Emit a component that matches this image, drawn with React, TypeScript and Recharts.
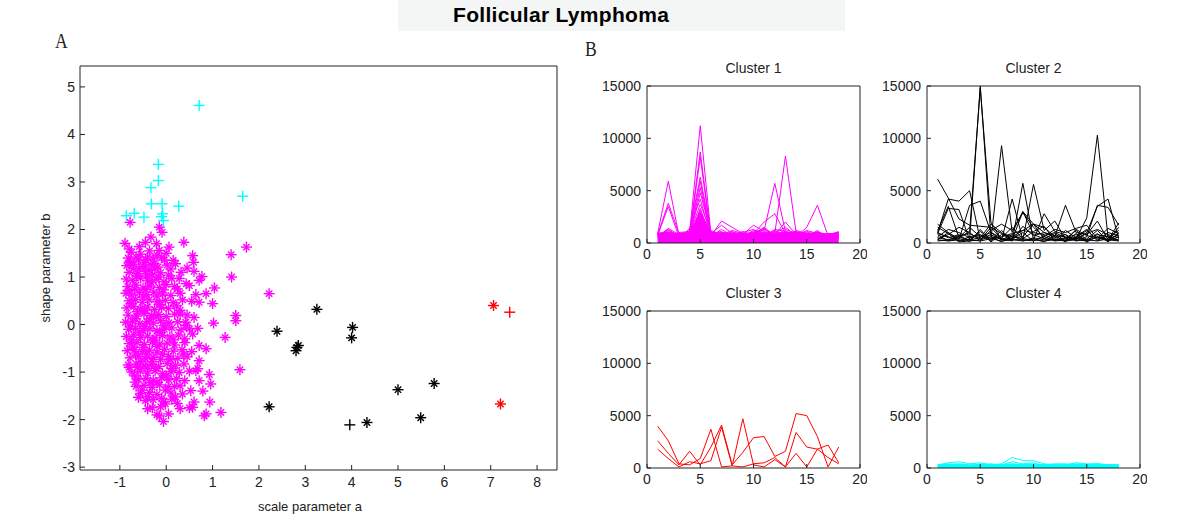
import React from 'react';
import { ScatterChart, Scatter, ComposedChart, Line, Area, XAxis, YAxis } from 'recharts';

// Panel A: shape/scale parameter estimates, one array per cluster and marker style
const magentaStars: number[][] = [
  [-0.78, 2.15], [-0.15, 2.05], [-0.09, 1.94], [-0.89, 1.71], [-0.8, 1.59], [-0.58, 1.64], [-0.45, 1.73],
  [-0.33, 1.84], [-0.21, 1.7], [-0.15, 1.56], [0.06, 1.63], [0.38, 1.73], [1.4, 1.47], [1.73, 1.63],
  [0.57, 1.45], [0.59, 1.31], [0.45, 1.19], [0.6, 1.12], [0.77, 1.01], [1.41, 1.0], [-0.04, 1.36],
  [0.1, 1.17], [0.28, 0.97], [-0.78, 1.31], [-0.65, 1.42], [-0.44, 1.35], [-0.26, 1.28], [-0.58, 1.17],
  [-0.37, 1.14], [2.22, 0.65], [1.04, 0.77], [0.86, 0.65], [1.0, 0.44], [1.5, 0.19], [1.5, 0.08],
  [1.02, 0.03], [1.27, -0.27], [1.59, -0.95], [0.93, -1.05], [0.96, -1.25], [0.79, -1.4], [0.94, -1.63],
  [1.18, -1.85], [0.82, -1.92], [0.6, -1.63], [0.5, -1.75], [0.24, -1.66], [-0.02, -1.67], [-0.06, -2.04],
  [-0.15, -1.92], [-0.4, -1.77], [-0.6, -1.53], [-0.67, -1.21], [-0.8, -0.9], [0.71, -0.76], [0.64, -0.97],
  [0.86, -0.51], [0.71, -0.44], [0.68, -0.08], [0.57, -0.2], [0.6, 0.15], [0.3, 0.22], [0.43, -0.02],
  [0.71, 0.47], [0.64, 0.63], [0.24, 0.75], [0.43, 0.86], [0.71, 0.93], [0.71, -1.18], [0.57, -1.74],
  [0.86, -1.88], [0.53, -1.39], [0.68, -0.93],
  [-0.75, 1.52], [-0.55, 1.48], [-0.36, 1.55], [-0.2, 1.46], [0.0, 1.5],
  [-0.82, 1.4], [-0.6, 1.36], [-0.4, 1.42], [-0.28, 1.38], [-0.1, 1.41], [0.15, 1.35],
  [-0.85, 1.24], [-0.7, 1.27], [-0.5, 1.22], [-0.33, 1.26], [-0.18, 1.21], [0.02, 1.25], [0.2, 1.28],
  [-0.8, 1.1], [-0.62, 1.07], [-0.45, 1.12], [-0.3, 1.05], [-0.12, 1.09], [0.05, 1.04], [0.32, 1.1],
  [-0.86, 0.96], [-0.72, 0.93], [-0.55, 0.98], [-0.4, 0.92], [-0.22, 0.95], [-0.05, 0.9], [0.12, 0.97],
  [-0.83, 0.8], [-0.65, 0.83], [-0.5, 0.77], [-0.35, 0.81], [-0.15, 0.78], [0.0, 0.84], [0.18, 0.8], [0.5, 0.82],
  [-0.87, 0.66], [-0.74, 0.62], [-0.58, 0.67], [-0.42, 0.63], [-0.27, 0.68], [-0.08, 0.64], [0.1, 0.61], [0.3, 0.66],
  [-0.8, 0.5], [-0.66, 0.53], [-0.52, 0.47], [-0.37, 0.52], [-0.2, 0.48], [-0.02, 0.51], [0.15, 0.46], [0.35, 0.52], [0.55, 0.49],
  [-0.85, 0.35], [-0.7, 0.38], [-0.55, 0.33], [-0.4, 0.37], [-0.25, 0.32], [-0.1, 0.36], [0.05, 0.34], [0.22, 0.39],
  [-0.82, 0.2], [-0.64, 0.18], [-0.48, 0.23], [-0.32, 0.19], [-0.16, 0.21], [0.0, 0.17], [0.18, 0.22], [0.45, 0.2],
  [-0.88, 0.05], [-0.73, 0.07], [-0.57, 0.02], [-0.42, 0.06], [-0.28, 0.03], [-0.12, 0.08], [0.06, 0.04], [0.25, 0.06],
  [-0.81, -0.1], [-0.66, -0.08], [-0.5, -0.12], [-0.35, -0.09], [-0.2, -0.13], [-0.04, -0.1], [0.12, -0.07], [0.32, -0.11], [0.5, -0.09],
  [-0.86, -0.25], [-0.7, -0.22], [-0.55, -0.27], [-0.4, -0.24], [-0.24, -0.28], [-0.08, -0.23], [0.08, -0.26], [0.26, -0.22],
  [-0.8, -0.4], [-0.63, -0.38], [-0.47, -0.42], [-0.3, -0.37], [-0.14, -0.41], [0.02, -0.39], [0.18, -0.43], [0.4, -0.38],
  [-0.84, -0.55], [-0.68, -0.53], [-0.52, -0.57], [-0.36, -0.54], [-0.2, -0.58], [-0.04, -0.52], [0.15, -0.56], [0.34, -0.53], [0.55, -0.57],
  [-0.78, -0.7], [-0.6, -0.68], [-0.44, -0.72], [-0.28, -0.69], [-0.12, -0.73], [0.05, -0.67], [0.25, -0.71], [0.45, -0.68],
  [-0.82, -0.85], [-0.65, -0.83], [-0.48, -0.87], [-0.32, -0.84], [-0.16, -0.88], [0.02, -0.82], [0.2, -0.86], [0.38, -0.83],
  [-0.74, -1.0], [-0.56, -0.98], [-0.4, -1.02], [-0.24, -0.97], [-0.08, -1.03], [0.1, -0.99], [0.28, -1.01], [0.5, -0.98],
  [-0.6, -1.15], [-0.44, -1.13], [-0.28, -1.17], [-0.1, -1.12], [0.06, -1.16], [0.22, -1.14], [0.4, -1.18],
  [-0.65, -1.3], [-0.48, -1.28], [-0.3, -1.32], [-0.14, -1.27], [0.04, -1.31], [0.3, -1.29],
  [-0.55, -1.45], [-0.36, -1.43], [-0.2, -1.47], [0.1, -1.44], [0.35, -1.46],
  [-0.45, -1.6], [-0.28, -1.58], [-0.05, -1.62], [0.12, -1.57],
  [-0.3, -1.75], [-0.12, -1.73], [0.3, -1.77], [-0.2, -1.9], [0.05, -1.88],
  [-0.78, 1.32], [-0.48, 1.3], [-0.25, 1.17], [-0.64, 1.02], [-0.32, 0.88], [-0.06, 0.73], [-0.8, 0.72],
  [-0.5, 0.58], [-0.14, 0.42], [-0.62, 0.27], [-0.36, 0.12], [-0.05, -0.02], [-0.77, -0.03], [-0.58, -0.17],
  [-0.28, -0.33], [0.15, -0.32], [-0.72, -0.47], [-0.42, -0.62], [-0.08, -0.62], [-0.55, -0.78], [-0.22, -0.92],
  [0.12, -0.92], [-0.68, -1.08], [-0.35, -1.22], [-0.02, -1.38], [-0.52, -1.38], [0.2, -1.52], [-0.1, -1.55],
  [0.38, -0.62], [0.42, 0.05], [0.3, 0.3], [0.4, -0.3],
  [-0.7, 1.18], [-0.42, 1.02], [-0.16, 1.0], [-0.68, 0.74], [-0.44, 0.74], [-0.2, 0.6], [-0.76, 0.44],
  [-0.46, 0.3], [-0.22, 0.16], [-0.66, 0.12], [-0.46, -0.04], [-0.14, -0.16], [-0.74, -0.32], [-0.5, -0.48],
  [-0.2, -0.46], [-0.66, -0.62], [-0.3, -0.78], [0.1, -0.74], [-0.4, -0.92], [-0.62, -0.9], [0.0, -1.08],
  [-0.2, -1.22], [0.18, -1.3], [-0.4, -1.52],
];
const cyanPlus: number[][] = [
  [0.71, 4.61], [-0.17, 3.37], [-0.17, 3.03], [-0.33, 2.88], [-0.32, 2.54], [-0.09, 2.54], [0.27, 2.49],
  [1.65, 2.7], [-0.86, 2.29], [-0.69, 2.34], [-0.48, 2.26], [-0.08, 2.33], [-0.06, 2.19], [-0.1, 2.27],
];
const blackStars: number[][] = [
  [3.25, 0.32], [2.39, -0.14], [2.82, -0.48], [2.8, -0.55], [2.85, -0.44], [4.02, -0.06], [4.0, -0.28],
  [2.22, -1.73], [5.0, -1.37], [5.78, -1.24], [5.49, -1.96], [4.33, -2.06],
];
const blackPlus: number[][] = [[3.96, -2.11]];
const redStars: number[][] = [[7.06, 0.4], [7.21, -1.67]];
const redPlus: number[][] = [[7.41, 0.26]];

const aXTicks = [-1, 0, 1, 2, 3, 4, 5, 6, 7, 8];
const aYTicks = [-3, -2, -1, 0, 1, 2, 3, 4, 5];

// Panel B: profiles across 18 positions
const positions = [1, 2, 3, 4, 5, 6, 7, 8, 9, 10, 11, 12, 13, 14, 15, 16, 17, 18];
const bXTicks = [0, 5, 10, 15, 20];
const bYTicks = [0, 5000, 10000, 15000];

const cluster1Band = [950, 1000, 900, 1000, 2900, 1000, 950, 900, 850, 950, 1000, 950, 1000, 950, 900, 1000, 850, 1000];
const cluster1: number[][] = [
  [900, 5900, 700, 800, 2900, 800, 600, 500, 700, 800, 900, 700, 600, 500, 700, 600, 500, 700],
  [800, 3800, 900, 1000, 11200, 900, 700, 800, 600, 700, 800, 900, 700, 800, 600, 500, 700, 900],
  [700, 3500, 600, 900, 8700, 700, 2100, 1500, 900, 1000, 1200, 5700, 1100, 900, 700, 800, 600, 1000],
  [600, 1400, 800, 700, 8200, 600, 900, 700, 800, 1700, 1100, 900, 8300, 1000, 900, 700, 800, 600],
  [800, 1200, 700, 1200, 6300, 900, 1700, 900, 700, 900, 2000, 2800, 900, 600, 1500, 3600, 700, 1100],
  [500, 900, 600, 1000, 5900, 700, 800, 1200, 900, 600, 900, 800, 2000, 800, 700, 1100, 600, 800],
  [700, 1100, 500, 800, 5300, 800, 1000, 600, 1000, 1300, 700, 1000, 1500, 700, 1200, 900, 500, 700],
  [400, 800, 900, 600, 4800, 1000, 600, 900, 500, 1000, 1400, 600, 700, 1000, 800, 1000, 700, 500],
  [900, 600, 400, 1400, 4200, 600, 1300, 700, 800, 500, 600, 1200, 800, 700, 1000, 600, 900, 600],
  [600, 1000, 700, 900, 3700, 1100, 700, 1100, 600, 800, 1500, 700, 1300, 900, 600, 1200, 400, 900],
  [800, 700, 800, 500, 3300, 500, 900, 800, 1100, 700, 900, 1100, 600, 1200, 900, 800, 700, 400],
  [500, 1300, 600, 700, 2900, 900, 1100, 500, 700, 1100, 800, 900, 1000, 600, 1100, 700, 800, 1000],
  [700, 500, 1000, 1100, 2500, 700, 500, 1000, 900, 900, 1300, 800, 600, 800, 500, 1000, 600, 700],
  [900, 1000, 500, 600, 2200, 1200, 800, 700, 600, 1200, 1000, 600, 900, 1100, 800, 500, 900, 800],
  [600, 800, 700, 800, 3100, 600, 1000, 900, 800, 700, 600, 1300, 1100, 700, 900, 900, 700, 600],
];
const cluster2: number[][] = [
  [6100, 4300, 2300, 1700, 1600, 1500, 900, 600, 1200, 1800, 1000, 700, 600, 400, 900, 1300, 800, 500],
  [900, 3300, 3200, 300, 15000, 600, 400, 300, 200, 500, 300, 400, 200, 300, 200, 600, 300, 200],
  [1200, 3500, 500, 1100, 14800, 2000, 300, 800, 300, 200, 600, 200, 300, 500, 300, 200, 400, 300],
  [300, 1000, 200, 600, 800, 300, 9300, 1000, 3000, 800, 400, 300, 200, 1300, 700, 500, 200, 600],
  [500, 300, 600, 300, 200, 400, 200, 300, 400, 300, 200, 300, 500, 400, 2400, 10300, 500, 1200],
  [1000, 4200, 4000, 5000, 300, 1500, 400, 200, 5700, 300, 2800, 1100, 800, 200, 600, 3600, 3400, 1700],
  [800, 200, 300, 3600, 4000, 1000, 300, 4200, 300, 5600, 1200, 2100, 400, 300, 1000, 3500, 4200, 400],
  [1800, 1000, 400, 300, 500, 1800, 1000, 300, 3000, 1800, 1500, 600, 3600, 1000, 800, 2100, 300, 1900],
  [400, 800, 1500, 1000, 200, 1200, 1800, 1200, 2900, 1500, 600, 1300, 1000, 1400, 1700, 400, 1400, 900],
  [900, 600, 200, 300, 1100, 400, 600, 900, 1200, 1000, 800, 300, 400, 1200, 300, 800, 600, 300],
  [200, 300, 700, 900, 400, 800, 300, 500, 600, 1800, 400, 900, 200, 600, 1300, 200, 1000, 700],
  [600, 1300, 1000, 500, 700, 200, 1200, 200, 1600, 700, 1000, 500, 800, 200, 400, 1200, 200, 1500],
  [1500, 900, 100, 200, 300, 600, 100, 700, 200, 400, 100, 700, 100, 900, 200, 900, 100, 1000],
  [300, 200, 500, 1500, 600, 1000, 500, 1500, 400, 1100, 1600, 200, 1200, 500, 1200, 300, 700, 200],
  [1000, 500, 800, 100, 1300, 100, 800, 400, 1000, 200, 700, 1000, 500, 800, 100, 600, 300, 800],
];
const cluster3: number[][] = [
  [4000, 2600, 400, 300, 900, 3700, 100, 200, 4700, 300, 100, 800, 100, 3400, 2000, 1800, 2200, 500],
  [2600, 1400, 300, 1600, 300, 2000, 4100, 300, 1500, 2900, 3000, 1100, 1600, 5200, 5000, 3000, 100, 2000],
  [1800, 900, 100, 600, 400, 700, 3900, 200, 100, 400, 500, 1000, 100, 1400, 100, 1800, 1000, 400],
];
const cluster4Band = [280, 300, 320, 280, 300, 300, 320, 350, 300, 320, 300, 300, 300, 320, 300, 300, 280, 280];
const cluster4: number[][] = [
  [300, 500, 600, 400, 500, 300, 400, 1000, 700, 700, 400, 300, 300, 500, 400, 400, 300, 300],
  [200, 400, 300, 200, 400, 200, 300, 600, 400, 500, 200, 300, 200, 400, 300, 300, 200, 200],
  [100, 200, 200, 100, 200, 100, 200, 300, 200, 200, 100, 200, 100, 200, 200, 100, 100, 100],
  [300, 300, 400, 300, 300, 400, 300, 400, 300, 400, 300, 400, 400, 300, 300, 400, 300, 300],
];

const INK = '#222';
const toPoints = (pts: number[][]) => pts.map(([x, y]) => ({ x, y }));

const Marker = ({ cx, cy, color, star }: { cx: number; cy: number; color: string; star: boolean }) => {
  const r = 5.5;
  const d = 3.2;
  return (
    <g stroke={color} strokeWidth={1.4}>
      <line x1={cx - r} y1={cy} x2={cx + r} y2={cy} />
      <line x1={cx} y1={cy - r} x2={cx} y2={cy + r} />
      {star && <line x1={cx - d} y1={cy - d} x2={cx + d} y2={cy + d} />}
      {star && <line x1={cx - d} y1={cy + d} x2={cx + d} y2={cy - d} />}
    </g>
  );
};

const markerShape = (color: string, star: boolean) => (p: any) => (
  <Marker cx={p.cx} cy={p.cy} color={color} star={star} />
);

function toRows(lines: number[][], band?: number[]) {
  return positions.map((x, i) => {
    const row: Record<string, number> = { x };
    lines.forEach((l, j) => {
      row['s' + j] = l[i];
    });
    if (band) row.band = band[i];
    return row;
  });
}

interface SubPlotProps {
  left: number;
  top: number;
  title: string;
  color: string;
  lines: number[][];
  band?: number[];
}

const SubPlot: React.FC<SubPlotProps> = ({ left, top, title, color, lines, band }) => {
  const rows = toRows(lines, band);
  return (
    <div style={{ position: 'absolute', left: left - 60, top: top - 11 }}>
      <div style={{ position: 'absolute', left: 60, width: 213, top: -15, lineHeight: '16px', textAlign: 'center', fontSize: 14, color: INK }}>
        {title}
      </div>
      <ComposedChart width={280} height={193} data={rows} margin={{ top: 10, right: 6, left: 0, bottom: 0 }}>
        <XAxis dataKey="x" type="number" domain={[0, 20]} ticks={bXTicks} allowDataOverflow interval={0}
          height={25} tickSize={-4} tickMargin={10} stroke={INK} tick={{ fill: INK, fontSize: 14 }} />
        <XAxis xAxisId="t" orientation="top" type="number" domain={[0, 20]} ticks={bXTicks} allowDataOverflow
          interval={0} height={1} tickSize={-4} tick={false} stroke={INK} />
        <YAxis type="number" domain={[0, 15000]} ticks={bYTicks} allowDataOverflow interval={0}
          width={60} tickSize={-4} tickMargin={10} stroke={INK} tick={{ fill: INK, fontSize: 14 }} />
        <YAxis yAxisId="r" orientation="right" type="number" domain={[0, 15000]} ticks={bYTicks} allowDataOverflow
          interval={0} width={1} tickSize={-4} tick={false} stroke={INK} />
        {band && (
          <Area dataKey="band" type="linear" fill={color} fillOpacity={1} stroke={color} strokeWidth={1}
            isAnimationActive={false} />
        )}
        {lines.map((_, j) => (
          <Line key={j} dataKey={'s' + j} type="linear" stroke={color} strokeWidth={1} dot={false}
            isAnimationActive={false} />
        ))}
      </ComposedChart>
    </div>
  );
};

export default function App() {
  return (
    <div style={{ position: 'absolute', left: 0, top: 0, width: 1200, height: 529, background: '#fff', overflow: 'hidden',
      fontFamily: '"Liberation Sans", Arial, sans-serif' }}>
      <div style={{ position: 'absolute', left: 398, top: 0, width: 447, height: 31, background: '#f4f5f5' }} />
      <div style={{ position: 'absolute', left: 453, top: 3, lineHeight: '24px', fontSize: 21, fontWeight: 'bold', color: '#000', letterSpacing: 0.3 }}>
        Follicular Lymphoma
      </div>

      <div style={{ position: 'absolute', left: 55, top: 28, fontFamily: '"Liberation Serif", serif', fontSize: 22,
        lineHeight: '26px', color: INK, transform: 'scaleX(0.8)', transformOrigin: 'left' }}>A</div>
      <div style={{ position: 'absolute', left: 585, top: 36, fontFamily: '"Liberation Serif", serif', fontSize: 22,
        lineHeight: '26px', color: INK, transform: 'scaleX(0.8)', transformOrigin: 'left' }}>B</div>

      <div style={{ position: 'absolute', left: 0, top: 40 }}>
        <ScatterChart width={575} height={470} margin={{ top: 25, right: 17, left: 0, bottom: 0 }}>
          <XAxis dataKey="x" type="number" domain={[-1.86, 8.43]} ticks={aXTicks} allowDataOverflow interval={0}
            height={40} tickSize={-5} tickMargin={12} stroke={INK} tick={{ fill: INK, fontSize: 14 }} />
          <XAxis xAxisId="t" orientation="top" type="number" domain={[-1.86, 8.43]} ticks={aXTicks} allowDataOverflow
            interval={0} height={1} tickSize={-5} tick={false} stroke={INK} />
          <YAxis dataKey="y" type="number" domain={[-3.06, 5.44]} ticks={aYTicks} allowDataOverflow interval={0}
            width={80} tickSize={-5} tickMargin={10} stroke={INK} tick={{ fill: INK, fontSize: 14 }} />
          <YAxis yAxisId="r" orientation="right" type="number" domain={[-3.06, 5.44]} ticks={aYTicks} allowDataOverflow
            interval={0} width={1} tickSize={-5} tick={false} stroke={INK} />
          <Scatter data={toPoints(magentaStars)} shape={markerShape('#ff00ff', true)} isAnimationActive={false} />
          <Scatter data={toPoints(cyanPlus)} shape={markerShape('#00ffff', false)} isAnimationActive={false} />
          <Scatter data={toPoints(blackStars)} shape={markerShape('#000000', true)} isAnimationActive={false} />
          <Scatter data={toPoints(blackPlus)} shape={markerShape('#000000', false)} isAnimationActive={false} />
          <Scatter data={toPoints(redStars)} shape={markerShape('#ff0000', true)} isAnimationActive={false} />
          <Scatter data={toPoints(redPlus)} shape={markerShape('#ff0000', false)} isAnimationActive={false} />
        </ScatterChart>
      </div>
      <div style={{ position: 'absolute', left: 210, width: 200, top: 499, lineHeight: '16px', textAlign: 'center', fontSize: 13, color: INK }}>
        scale parameter a
      </div>
      <div style={{ position: 'absolute', left: 46, top: 268, width: 0, height: 0 }}>
        <div style={{ position: 'absolute', left: -100, top: -8, width: 200, lineHeight: '16px', textAlign: 'center', fontSize: 13,
          color: INK, transform: 'rotate(-90deg)' }}>
          shape parameter b
        </div>
      </div>

      <SubPlot left={647} top={86} title="Cluster 1" color="#ff00ff" lines={cluster1} band={cluster1Band} />
      <SubPlot left={927} top={86} title="Cluster 2" color="#000000" lines={cluster2} />
      <SubPlot left={647} top={311} title="Cluster 3" color="#ff0000" lines={cluster3} />
      <SubPlot left={927} top={311} title="Cluster 4" color="#00ffff" lines={cluster4} band={cluster4Band} />
    </div>
  );
}
